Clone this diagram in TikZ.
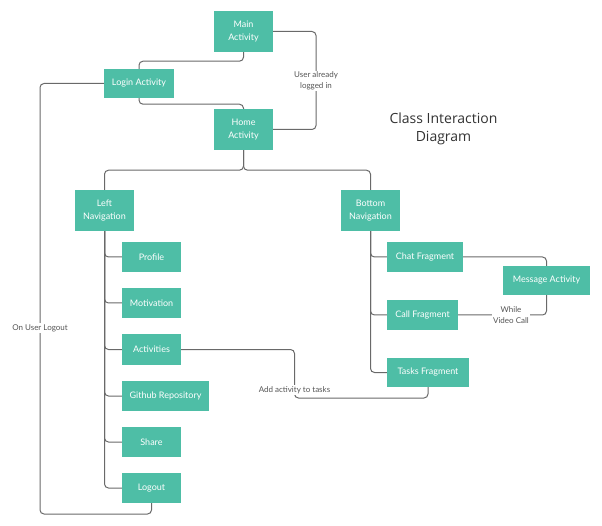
\documentclass[tikz,border=0pt]{standalone}
\usepackage{fontspec}
\setmainfont{Lato}
\newfontfamily\titlefont{Open Sans}
\definecolor{boxteal}{RGB}{78, 190, 166}
\definecolor{linegray}{RGB}{105, 105, 105}
\definecolor{labelgray}{RGB}{85, 85, 85}
\definecolor{titlegray}{RGB}{50, 50, 50}
\usetikzlibrary{positioning, calc}

\tikzset{
  cbox/.style={rectangle, fill=boxteal, text=white, inner sep=0pt, align=center,
    font=\fontsize{9}{12.5}\selectfont, minimum height=30pt},
  tallbox/.style={cbox, minimum width=59pt, minimum height=41pt},
  link/.style={draw=linegray, line width=1pt, rounded corners=4pt},
  lbl/.style={fill=white, text=labelgray, inner sep=1pt, align=center,
    font=\fontsize{8}{10.5}\selectfont}
}

\begin{document}
\begin{tikzpicture}[x=1pt, y=-1pt]
  \useasboundingbox (0,0) rectangle (602,526);

  % === top ===
  \node[tallbox] (main) at (243.5, 31.5) {Main\\Activity};
  \node[cbox, minimum width=70pt, minimum height=29pt] (login) at (139, 83.5) {Login Activity};
  \node[tallbox] (home) at (243.5, 129.5) {Home\\Activity};
  \node[font=\titlefont\fontsize{14}{18}\selectfont, text=titlegray, align=center] (title) at (443.5, 129) {Class Interaction\\Diagram};

  % === navigation ===
  \node[tallbox] (leftnav) at (104.5, 210.5) {Left\\Navigation};
  \node[tallbox] (botnav) at (370.5, 210.5) {Bottom\\Navigation};

  % === left menu ===
  \node[cbox, minimum width=59pt] (profile) at (151.5, 257) {Profile};
  \node[cbox, minimum width=59pt] (motivation) at (151.5, 303) {Motivation};
  \node[cbox, minimum width=59pt] (activities) at (151.5, 349.5) {Activities};
  \node[cbox, minimum width=87pt] (github) at (165.5, 396) {Github Repository};
  \node[cbox, minimum width=59pt] (share) at (151.5, 442) {Share};
  \node[cbox, minimum width=59pt] (logout) at (151.5, 488) {Logout};

  % === fragments ===
  \node[cbox, minimum width=76pt] (chat) at (425, 257) {Chat Fragment};
  \node[cbox, minimum width=87pt, minimum height=29pt] (msg) at (546.5, 280.5) {Message Activity};
  \node[cbox, minimum width=71pt] (call) at (422.5, 315) {Call Fragment};
  \node[cbox, minimum width=82pt, minimum height=29pt] (tasks) at (428, 372.5) {Tasks Fragment};

  % === connectors ===
  \coordinate (ua) at (316, 81);
  \coordinate (lo) at (40, 514);
  \coordinate (at) at (294.5, 398);
  \draw[link] (main.south) -- ++(0, 9) -| (login.north);
  \draw[link] (login.south) -- ++(0, 6) -| (home.north);
  \draw[link] (main.east) -| (ua) |- (home.east);
  \draw[link] (login.west) -| (lo) -| (logout.south);
  \draw[link] (home.south) -- ++(0, 20) -| (leftnav.north);
  \draw[link] (home.south) -- ++(0, 20) -| (botnav.north);
  \foreach \n in {profile, motivation, activities, github, share, logout}
    \draw[link] (leftnav.south) |- (\n.west);
  \foreach \n in {chat, call, tasks}
    \draw[link] (botnav.south) |- (\n.west);
  \draw[link] (chat.east) -| (msg.north);
  \draw[link] (call.east) -| (msg.south);
  \draw[link] (activities.east) -| (at) -| (tasks.south);

  % === labels ===
  \node[lbl] (ualbl) at (ua) {User already\\logged in};
  \node[lbl] (lolbl) at (40, 328) {On User Logout};
  \node[lbl] (vclbl) at (511, 315) {While\\Video Call};
  \node[lbl] (atlbl) at (294.5, 390) {Add activity to tasks};
\end{tikzpicture}
\end{document}
